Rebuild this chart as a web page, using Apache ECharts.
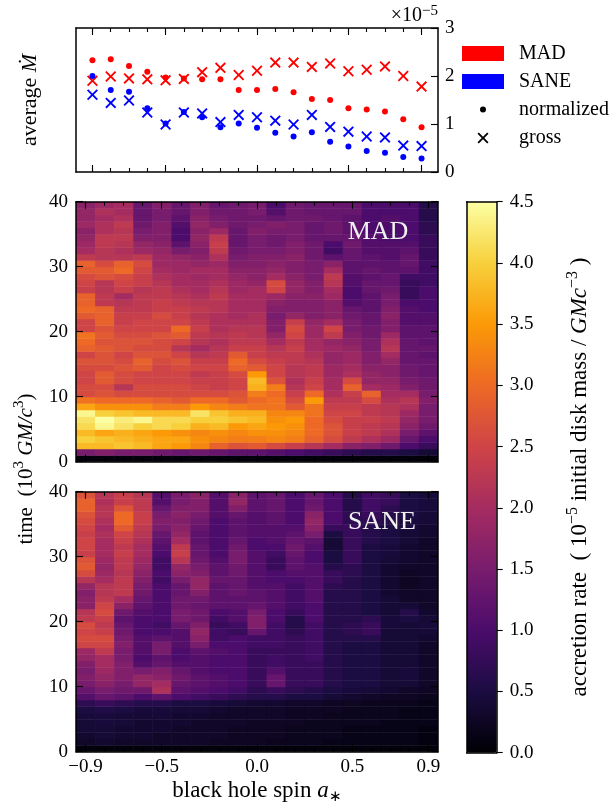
<!DOCTYPE html>
<html><head><meta charset="utf-8">
<script src="https://cdn.jsdelivr.net/npm/echarts@6/dist/echarts.min.js"></script>
<style>html,body{margin:0;padding:0;background:#fff}#c{width:616px;height:804px}</style>
</head><body><div id="c"></div><script>
// ---------------- data ----------------
const spins = [-0.9,-0.8,-0.7,-0.6,-0.5,-0.4,-0.3,-0.2,-0.1,0.0,0.1,0.2,0.3,0.4,0.5,0.6,0.7,0.8,0.9];
const majorSpinTicks = [-0.9,-0.5,0.0,0.5,0.9];
const madNormalized = [2.33,2.35,2.21,2.09,1.97,1.95,1.93,1.93,1.71,1.71,1.73,1.66,1.52,1.50,1.33,1.30,1.26,1.10,0.93];
const madGross      = [1.90,1.99,1.95,1.93,1.91,1.94,2.08,2.17,2.02,2.11,2.28,2.28,2.19,2.26,2.10,2.13,2.20,2.00,1.78];
const saneNormalized= [2.00,1.71,1.67,1.33,1.01,1.25,1.14,0.93,1.01,0.92,0.82,0.74,0.83,0.63,0.53,0.44,0.40,0.31,0.28];
const saneGross     = [1.61,1.44,1.49,1.24,0.99,1.24,1.22,1.04,1.19,1.14,1.07,0.99,1.19,0.94,0.84,0.74,0.72,0.55,0.54];
const timeBinStart = Array.from({length:40},(_,k)=>k);   // bin edges, 10^3 GM/c^3
const TIME_BIN = 1, SPIN_BIN = 0.1;
// accretion rate, one row per spin, 40 time bins (t = 0..40)
const madRate = [
[0.05,1.5,3.8,4.0,3.8,4.1,4.2,4.4,3.6,3.1,2.6,2.6,2.5,2.5,2.6,2.7,2.5,2.9,3.0,3.1,2.5,2.5,2.8,3.0,2.9,2.9,2.4,2.5,2.6,2.8,2.9,2.3,2.0,1.9,1.8,1.7,1.9,1.8,1.8,1.7],
[0.05,1.6,3.8,3.9,3.6,4.4,4.5,4.0,3.4,3.0,2.7,2.6,2.8,2.8,2.6,2.7,2.7,2.8,2.7,2.8,2.7,2.9,2.9,2.9,2.3,2.3,2.2,2.2,2.7,2.8,2.6,2.2,2.2,2.3,2.3,2.1,2.1,2.0,2.1,1.9],
[0.05,1.5,3.9,3.8,3.7,4.2,4.3,3.9,3.4,3.0,2.6,2.2,2.6,2.6,2.7,2.6,2.5,2.7,2.7,2.6,2.5,2.4,2.4,2.3,2.2,2.0,2.4,2.5,2.6,3.0,2.9,2.2,2.1,2.2,2.3,2.2,2.3,2.1,2.0,2.0],
[0.05,1.5,3.8,3.7,3.6,4.0,4.4,3.8,3.4,3.0,2.6,2.6,2.5,2.5,2.8,2.9,2.7,2.6,2.7,2.6,2.5,2.5,2.4,2.3,2.3,2.3,2.2,2.4,2.4,2.5,2.6,2.3,1.9,1.8,1.6,1.5,1.4,1.3,1.3,1.3],
[0.05,1.4,3.6,3.6,3.5,4.1,4.1,3.8,3.2,2.9,2.6,2.6,2.5,2.5,2.5,2.6,2.7,2.6,2.6,2.7,2.5,2.5,2.6,2.4,2.4,2.3,2.3,2.2,2.1,2.0,1.9,1.9,1.8,1.7,1.6,1.6,1.6,1.5,1.5,1.6],
[0.05,1.3,3.5,3.6,3.4,4.0,4.1,3.8,3.2,2.8,2.6,2.6,2.5,2.5,2.6,2.7,2.5,2.2,2.5,2.8,3.0,2.5,2.4,2.4,2.3,2.2,2.1,2.0,2.0,1.9,1.9,1.8,1.5,1.2,1.0,1.0,1.1,1.2,1.3,1.3],
[0.05,1.4,3.3,3.4,3.3,3.7,4.0,4.2,3.5,3.0,2.6,2.5,2.4,2.3,2.5,2.4,2.2,2.0,2.2,2.3,2.4,2.3,2.2,2.3,2.2,2.1,2.0,2.0,1.9,2.0,1.8,1.7,1.6,1.7,1.8,1.7,1.8,1.7,1.6,1.6],
[0.05,1.3,2.9,3.3,3.4,3.8,4.0,3.9,3.3,3.0,2.6,2.4,2.4,2.4,2.5,2.4,2.3,2.2,2.1,2.2,2.1,2.1,2.1,2.2,2.2,2.3,2.2,2.1,2.0,2.0,1.9,2.1,2.3,2.4,2.3,1.9,1.6,1.5,1.4,1.3],
[0.05,1.2,2.7,3.2,3.3,3.5,3.9,3.7,3.2,2.8,2.7,2.5,2.5,2.6,2.9,3.0,2.8,2.4,2.3,2.3,2.2,2.1,2.0,2.0,2.0,2.0,1.9,1.9,1.8,1.7,1.6,1.5,1.4,1.3,1.3,1.3,1.4,1.4,1.4,1.4],
[0.05,1.2,2.8,3.2,3.4,3.6,3.8,3.7,3.1,3.0,3.2,3.7,3.8,3.5,2.8,2.6,2.4,2.4,2.3,2.2,2.2,2.1,2.1,2.0,2.0,2.0,2.0,1.8,1.7,1.7,1.6,1.6,1.5,1.5,1.5,1.6,1.5,1.4,1.5,1.5],
[0.05,1.1,2.6,3.3,3.4,3.5,3.4,3.3,3.1,3.1,3.0,3.2,2.7,2.5,2.5,2.4,2.3,2.2,2.0,1.8,1.6,1.6,1.5,1.6,1.7,1.9,2.5,2.6,2.0,1.8,1.7,1.6,1.5,1.4,1.4,1.5,1.6,1.3,1.1,1.0],
[0.05,1.0,2.4,3.2,3.3,3.4,3.5,3.3,2.8,2.6,2.4,2.2,2.1,2.2,2.2,2.3,2.3,2.4,2.3,2.5,2.6,2.4,1.8,1.6,1.6,1.7,1.8,1.8,1.7,1.6,1.6,1.7,1.6,1.6,1.5,1.5,1.5,1.4,1.4,1.4],
[0.05,0.9,2.2,2.9,3.0,3.0,3.0,3.1,3.1,3.5,3.0,2.5,2.4,2.3,2.3,2.2,2.1,2.0,2.0,1.9,1.9,1.8,1.6,1.6,1.6,1.7,1.6,1.6,1.5,1.5,1.5,1.4,1.4,1.4,1.3,1.3,1.3,1.4,1.3,1.3],
[0.05,0.8,2.0,2.6,2.7,2.7,2.6,2.5,2.4,2.3,2.1,2.0,2.0,1.9,1.9,1.8,1.8,1.9,1.8,2.3,2.5,2.0,1.7,1.7,1.7,1.9,2.0,2.2,2.3,2.0,1.7,1.2,0.9,1.0,1.3,1.4,1.4,1.3,1.3,1.3],
[0.05,0.7,1.7,2.3,2.4,2.4,2.4,2.5,2.4,2.3,2.4,2.9,2.6,2.1,2.0,1.9,1.9,1.8,1.7,1.6,1.5,1.5,1.4,1.3,1.1,1.0,1.0,1.1,1.1,1.2,1.2,1.3,1.3,1.4,1.3,1.2,1.2,1.2,1.3,1.3],
[0.05,0.6,1.6,2.1,2.3,2.3,2.4,2.3,2.3,2.6,2.9,2.0,1.8,1.8,1.7,1.6,1.6,1.5,1.5,1.4,1.4,1.3,1.3,1.2,1.2,1.2,1.3,1.3,1.2,1.3,1.2,1.2,1.1,1.1,1.1,1.0,1.0,1.0,1.0,1.0],
[0.05,0.6,1.4,1.9,2.1,2.2,2.3,2.2,2.2,2.1,2.0,1.9,1.8,1.7,1.7,1.8,2.0,2.2,2.1,1.9,1.6,1.6,1.7,1.6,1.5,1.5,1.4,1.3,1.3,1.2,1.2,1.1,1.1,1.1,1.0,1.0,1.0,1.1,1.0,1.0],
[0.05,0.5,1.0,1.3,1.5,1.7,1.8,1.9,2.1,2.2,2.0,1.6,1.5,1.4,1.4,1.3,1.3,1.3,1.3,1.2,1.2,1.1,1.1,1.1,1.0,0.8,0.8,0.8,0.9,1.2,1.3,1.3,1.2,1.1,1.0,1.0,1.0,1.0,1.0,1.0],
[0.05,0.4,0.8,1.0,1.2,1.4,1.5,1.5,1.5,1.6,1.5,1.4,1.4,1.3,1.3,1.3,1.2,1.3,1.2,1.2,1.2,1.1,1.1,1.0,1.0,1.0,1.0,0.9,0.9,0.9,0.9,0.8,0.8,0.8,0.8,0.7,0.7,0.6,0.6,0.6]
];
const saneRate = [
[0.05,0.3,0.35,0.4,0.4,0.45,0.5,0.7,1.1,1.3,1.5,1.6,1.5,1.6,1.8,1.9,2.5,2.6,2.5,2.6,2.3,2.2,1.7,1.7,1.6,1.8,2.2,2.6,2.8,2.7,2.4,2.5,2.5,2.4,2.5,2.6,2.7,2.9,2.9,2.7],
[0.05,0.35,0.4,0.4,0.45,0.45,0.55,0.8,1.3,1.5,1.7,1.8,1.9,2.0,2.0,2.3,2.5,2.6,2.4,2.3,2.4,2.6,2.5,2.3,2.2,2.2,2.0,1.9,1.8,1.9,2.0,2.0,2.0,2.1,2.0,2.1,2.2,2.2,2.1,2.2],
[0.05,0.3,0.35,0.35,0.4,0.4,0.5,0.7,1.2,1.4,1.5,1.6,1.6,1.6,1.5,1.5,1.6,1.5,1.4,1.3,1.2,1.4,1.7,2.0,2.3,2.3,2.3,2.2,2.3,2.3,2.4,2.3,2.4,2.5,2.8,3.0,3.0,2.7,2.4,2.4],
[0.05,0.3,0.35,0.35,0.35,0.4,0.45,0.6,1.0,1.4,1.8,1.8,1.5,1.1,1.0,1.1,1.1,1.1,1.0,1.0,1.0,1.1,1.2,1.3,1.4,1.5,1.6,1.7,1.8,1.9,2.0,2.0,2.1,2.2,2.3,2.4,2.4,2.3,2.3,2.2],
[0.05,0.3,0.3,0.35,0.35,0.4,0.45,0.6,1.2,2.1,2.0,1.7,1.6,1.3,1.2,1.5,1.5,1.2,1.0,0.9,1.0,1.0,1.0,1.0,1.0,1.0,0.9,1.0,0.9,0.9,1.0,1.1,1.2,1.3,1.5,1.6,1.5,1.3,1.1,1.1],
[0.05,0.3,0.3,0.3,0.35,0.35,0.4,0.5,1.0,1.2,1.3,1.4,1.3,1.1,1.0,1.0,1.1,1.1,1.1,1.3,1.5,1.5,1.4,1.4,1.3,1.3,1.5,1.7,1.8,2.2,2.4,2.3,2.0,1.8,1.7,1.6,1.7,1.6,1.5,1.5],
[0.05,0.3,0.3,0.3,0.3,0.35,0.4,0.5,0.9,1.1,1.2,1.2,1.1,1.1,1.1,1.2,1.5,1.7,1.8,1.6,1.4,1.4,1.3,1.4,1.6,1.8,1.8,1.6,1.5,1.4,1.3,1.3,1.2,1.2,1.3,1.4,1.5,1.6,1.6,1.7],
[0.05,0.25,0.3,0.3,0.3,0.3,0.35,0.45,0.8,1.0,1.1,1.1,1.0,1.0,1.0,1.1,1.0,0.9,0.9,0.8,0.9,1.0,1.2,1.2,1.2,1.2,1.3,1.2,1.2,1.1,1.0,1.0,1.0,1.0,1.0,1.0,1.1,1.1,1.1,1.1],
[0.05,0.25,0.25,0.25,0.3,0.3,0.3,0.4,0.7,0.9,1.0,1.0,1.0,1.0,1.0,1.0,1.0,1.0,0.8,0.9,1.1,1.1,1.2,1.2,1.3,1.3,1.3,1.4,1.4,1.5,1.5,1.4,1.3,1.2,1.2,1.2,1.3,1.6,1.8,1.7],
[0.05,0.25,0.25,0.25,0.25,0.3,0.3,0.35,0.6,0.7,0.8,0.8,0.8,0.8,0.8,0.8,0.9,0.9,1.3,1.6,1.6,1.5,1.3,1.2,1.2,1.1,1.1,1.1,1.1,1.1,1.1,1.0,1.0,1.1,1.1,1.1,1.1,1.2,1.2,1.2],
[0.05,0.2,0.25,0.25,0.25,0.3,0.3,0.35,0.6,0.8,1.3,1.3,1.1,0.9,0.9,0.8,0.9,0.9,0.9,0.9,1.0,1.0,1.1,1.1,1.1,1.1,1.0,1.0,0.8,0.8,0.9,1.0,1.1,1.1,1.1,1.2,1.2,1.3,1.3,1.3],
[0.05,0.2,0.2,0.2,0.25,0.25,0.25,0.3,0.5,0.7,0.8,0.8,0.8,0.8,0.8,0.8,0.8,0.8,0.7,0.6,0.6,0.8,0.9,0.9,0.9,0.9,1.0,1.1,1.2,1.2,1.3,1.4,1.3,1.2,1.1,1.0,1.0,1.0,1.0,1.0],
[0.05,0.2,0.2,0.2,0.2,0.25,0.25,0.3,0.5,0.6,0.8,0.8,0.8,0.8,0.9,0.9,0.9,0.9,0.9,0.9,1.0,1.0,1.0,1.1,1.1,1.1,1.1,1.1,1.1,1.0,1.0,1.1,1.2,1.5,1.7,1.8,1.7,1.4,1.3,1.3],
[0.05,0.15,0.2,0.2,0.2,0.2,0.25,0.25,0.4,0.5,0.6,0.6,0.6,0.6,0.6,0.6,0.6,0.6,0.6,0.6,0.6,0.6,0.6,0.6,0.6,0.7,0.8,0.8,0.6,0.5,0.5,0.4,0.4,0.5,0.8,1.0,1.0,1.0,1.0,1.0],
[0.05,0.15,0.15,0.15,0.2,0.2,0.2,0.25,0.35,0.45,0.5,0.5,0.5,0.5,0.5,0.5,0.5,0.6,0.7,0.7,0.6,0.6,0.6,0.6,0.6,0.6,0.6,0.7,0.7,0.8,0.8,0.8,0.8,0.8,0.8,0.7,0.7,0.6,0.6,0.6],
[0.05,0.15,0.15,0.15,0.2,0.2,0.2,0.2,0.3,0.4,0.5,0.5,0.5,0.5,0.5,0.5,0.5,0.6,0.8,0.8,0.7,0.5,0.5,0.5,0.5,0.5,0.5,0.5,0.5,0.5,0.5,0.5,0.6,0.6,0.6,0.7,0.8,0.9,0.9,0.9],
[0.05,0.15,0.15,0.15,0.15,0.2,0.2,0.2,0.25,0.35,0.4,0.4,0.4,0.4,0.4,0.4,0.4,0.4,0.4,0.45,0.45,0.4,0.4,0.4,0.35,0.35,0.35,0.35,0.35,0.4,0.45,0.45,0.5,0.5,0.5,0.6,0.6,0.7,0.8,0.8],
[0.05,0.15,0.15,0.15,0.15,0.15,0.15,0.2,0.25,0.3,0.4,0.45,0.45,0.4,0.4,0.4,0.4,0.4,0.4,0.4,0.5,0.6,0.4,0.3,0.3,0.25,0.25,0.25,0.3,0.35,0.35,0.35,0.4,0.4,0.45,0.45,0.5,0.5,0.5,0.5],
[0.05,0.1,0.1,0.1,0.15,0.15,0.15,0.15,0.2,0.25,0.3,0.3,0.3,0.3,0.3,0.3,0.3,0.35,0.4,0.45,0.4,0.35,0.3,0.3,0.3,0.3,0.3,0.3,0.3,0.3,0.3,0.3,0.3,0.35,0.35,0.4,0.4,0.45,0.45,0.45]
];
const inferno = ['#000004','#1b0c42','#4b0c6b','#781c6d','#a52c60','#cf4446','#ed6925','#fb9a06','#f7d03c','#fcffa4'];

// ---------------- helpers ----------------
const FONT = 'Liberation Serif';
const X_PATH = 'path://M0,1.2 L1.2,0 L5,3.8 L8.8,0 L10,1.2 L6.2,5 L10,8.8 L8.8,10 L5,6.2 L1.2,10 L0,8.8 L3.8,5 Z';
const fmtSpin = v => { const r = Math.round(v*10)/10; return (r < 0 ? '\u2212' : '') + Math.abs(r).toFixed(1); };
const lineS = {color:'#000', width:1.5};
const tickS = {color:'#000', width:1.1};
const lab = {fontFamily:FONT, fontSize:19, color:'#000'};

function xAx(gridIndex, position, min, max, tickVals, tickLen, showLine, labelVals) {
  return {type:'value', gridIndex, position, min, max, z:10,
    axisLine:{show:showLine, onZero:false, lineStyle:lineS},
    axisTick:{show:true, inside:true, length:tickLen, customValues:tickVals, lineStyle:tickS},
    axisLabel: labelVals ? Object.assign({show:true, customValues:labelVals, formatter:fmtSpin, margin:6}, lab) : {show:false},
    splitLine:{show:false}};
}
function yAx(gridIndex, position, min, max, interval, o) {
  return {type:'value', gridIndex, position, min, max, interval, z:10,
    axisLine:{show:true, onZero:false, lineStyle:lineS},
    axisTick:{show:o.ticks, inside:o.inside !== false, length:o.len || 7, lineStyle:tickS},
    axisLabel: o.labels ? Object.assign({show:true, margin:o.margin || 8, formatter:o.fmt}, lab) : {show:false},
    splitLine:{show:false}};
}
const hiddenY = g => ({type:'value', gridIndex:g, show:false, min:0, max:1});

function cells(rate) {
  const out = [];
  rate.forEach((col, i) => col.forEach((v, k) => out.push([spins[i], timeBinStart[k], v])));
  return out;
}
function renderItem(params, api) {
  const s = api.value(0), t = api.value(1);
  const a = api.coord([s - SPIN_BIN/2, t + TIME_BIN]);
  const b = api.coord([s + SPIN_BIN/2, t]);
  return {type:'rect', shape:{x:a[0], y:a[1], width:b[0]-a[0]+0.6, height:b[1]-a[1]+0.6},
          style:{fill:api.visual('color')}};
}
const zip = arr => spins.map((s, i) => [s, arr[i]]);

const TOP = {left:76, top:28, width:362, height:144};
const MADG = {left:76, top:201.7, width:362, height:260};
const SANEG = {left:76, top:491.7, width:362, height:260};
const CB = {left:466.7, top:201.7, width:30, height:551};
const legText = pad => ({fontFamily:FONT, fontSize:20, color:'#000', lineHeight:20, padding:[0,0,0,pad]});

const option = {
  animation:false,
  backgroundColor:'#fff',
  grid:[TOP, TOP, MADG, MADG, SANEG, SANEG, CB].map(g => Object.assign({containLabel:false}, g)),
  xAxis:[
    xAx(0,'bottom',-0.99,0.99,spins,4,true),
    xAx(0,'top',-0.99,0.99,spins,4,true),
    xAx(1,'bottom',-0.99,0.99,majorSpinTicks,7,false),
    xAx(1,'top',-0.99,0.99,majorSpinTicks,7,false),
    xAx(2,'bottom',-0.95,0.95,spins,4,true),
    xAx(2,'top',-0.95,0.95,spins,4,true),
    xAx(3,'bottom',-0.95,0.95,majorSpinTicks,7,false),
    xAx(3,'top',-0.95,0.95,majorSpinTicks,7,false),
    xAx(4,'bottom',-0.95,0.95,spins,4,true,majorSpinTicks),
    xAx(4,'top',-0.95,0.95,spins,4,true),
    xAx(5,'bottom',-0.95,0.95,majorSpinTicks,7,false),
    xAx(5,'top',-0.95,0.95,majorSpinTicks,7,false),
    {type:'value', gridIndex:6, position:'bottom', min:0, max:1, z:10, axisLine:{show:true,onZero:false,lineStyle:lineS}, axisTick:{show:false}, axisLabel:{show:false}, splitLine:{show:false}},
    {type:'value', gridIndex:6, position:'top', min:0, max:1, z:10, axisLine:{show:true,onZero:false,lineStyle:lineS}, axisTick:{show:false}, axisLabel:{show:false}, splitLine:{show:false}}
  ],
  yAxis:[
    yAx(0,'right',0,3,1,{ticks:true, labels:true, margin:7, fmt:v=>String(v)}),
    yAx(0,'left',0,3,1,{ticks:false}),
    hiddenY(1),
    yAx(2,'left',0,40,10,{ticks:true, labels:true, margin:8, fmt:v=>String(v)}),
    yAx(2,'right',0,40,10,{ticks:true}),
    hiddenY(3),
    yAx(4,'left',0,40,10,{ticks:true, labels:true, margin:8, fmt:v=>String(v)}),
    yAx(4,'right',0,40,10,{ticks:true}),
    hiddenY(5),
    yAx(6,'right',0,4.5,0.5,{ticks:true, inside:false, len:6, labels:true, margin:13, fmt:v=>v.toFixed(1)}),
    yAx(6,'left',0,4.5,0.5,{ticks:false})
  ],
  visualMap:{
    type:'continuous', min:0, max:4.5, dimension:2, seriesIndex:[0,1],
    calculable:false, hoverLink:false, realtime:false, orient:'vertical',
    left:CB.left, top:CB.top, itemWidth:CB.width, itemHeight:CB.height, padding:0,
    showLabel:false, text:null,
    inRange:{color:inferno}
  },
  legend:[
    {data:[{name:'MAD', icon:'rect'},{name:'SANE', icon:'rect'}], orient:'vertical', left:462, top:43.5,
     itemWidth:42, itemHeight:15, itemGap:8, padding:0, selectedMode:false, textStyle:legText(10)},
    {data:[{name:'normalized', icon:'circle'}], orient:'vertical', left:480, top:99.5,
     itemWidth:6, itemHeight:6, padding:0, selectedMode:false, textStyle:legText(28)},
    {data:[{name:'gross', icon:X_PATH}], orient:'vertical', left:477.5, top:128,
     itemWidth:11, itemHeight:11, padding:0, selectedMode:false, textStyle:legText(25.5)}
  ],
  series:[
    {type:'custom', name:'MAD rate', xAxisIndex:4, yAxisIndex:3, renderItem, data:cells(madRate), encode:{x:0,y:1}, clip:true, silent:true},
    {type:'custom', name:'SANE rate', xAxisIndex:8, yAxisIndex:6, renderItem, data:cells(saneRate), encode:{x:0,y:1}, clip:true, silent:true},
    {type:'scatter', name:'MAD normalized', xAxisIndex:0, yAxisIndex:0, data:zip(madNormalized), symbol:'circle', symbolSize:6, itemStyle:{color:'#ff0000', opacity:1}, silent:true, z:3},
    {type:'scatter', name:'MAD gross', xAxisIndex:0, yAxisIndex:0, data:zip(madGross), symbol:X_PATH, symbolSize:11, itemStyle:{color:'#ff0000', opacity:1}, silent:true, z:4},
    {type:'scatter', name:'SANE normalized', xAxisIndex:0, yAxisIndex:0, data:zip(saneNormalized), symbol:'circle', symbolSize:6, itemStyle:{color:'#0000ff', opacity:1}, silent:true, z:5},
    {type:'scatter', name:'SANE gross', xAxisIndex:0, yAxisIndex:0, data:zip(saneGross), symbol:X_PATH, symbolSize:11, itemStyle:{color:'#0000ff', opacity:1}, silent:true, z:6},
    {type:'scatter', name:'MAD', xAxisIndex:0, yAxisIndex:0, data:[], itemStyle:{color:'#ff0000', opacity:1}},
    {type:'scatter', name:'SANE', xAxisIndex:0, yAxisIndex:0, data:[], itemStyle:{color:'#0000ff', opacity:1}},
    {type:'scatter', name:'normalized', xAxisIndex:0, yAxisIndex:0, data:[], itemStyle:{color:'#000', opacity:1}},
    {type:'scatter', name:'gross', xAxisIndex:0, yAxisIndex:0, data:[], itemStyle:{color:'#000', opacity:1}}
  ],
  graphic:[
    {type:'text', x:438, y:15, z:100, style:{text:'{a|\u00d710}{b|\u22125}', align:'right', verticalAlign:'middle',
      rich:{a:{fontFamily:FONT, fontSize:20, lineHeight:22, verticalAlign:'bottom', fill:'#000'},
            b:{fontFamily:FONT, fontSize:15, lineHeight:15, verticalAlign:'top', fill:'#000'}}}},
    {type:'text', x:30, y:100, rotation:Math.PI/2, z:100, style:{text:'{r|average }{i|\u1e40}', align:'center', verticalAlign:'middle',
      rich:{r:{fontFamily:FONT, fontSize:22, fill:'#000'}, i:{fontFamily:FONT, fontSize:22, fontStyle:'italic', fill:'#000'}}}},
    {type:'text', x:24, y:469, rotation:Math.PI/2, z:100, style:{text:'{r|time  (10}{s|3}{r| }{i|GM/c}{s|3}{r|)}', align:'center', verticalAlign:'middle',
      rich:{r:{fontFamily:FONT, fontSize:21, lineHeight:25, verticalAlign:'bottom', fill:'#000'},
            i:{fontFamily:FONT, fontSize:21, lineHeight:25, verticalAlign:'bottom', fontStyle:'italic', fill:'#000'},
            s:{fontFamily:FONT, fontSize:15, lineHeight:15, verticalAlign:'top', fill:'#000'}}}},
    {type:'text', x:578, y:477, rotation:Math.PI/2, z:100, style:{text:'{r|accretion rate  ( 10}{s|\u22125}{r| initial disk mass / }{i|GMc}{s|\u22123}{r| )}', align:'center', verticalAlign:'middle',
      rich:{r:{fontFamily:FONT, fontSize:23, lineHeight:27, verticalAlign:'bottom', fill:'#000'},
            i:{fontFamily:FONT, fontSize:23, lineHeight:27, verticalAlign:'bottom', fontStyle:'italic', fill:'#000'},
            s:{fontFamily:FONT, fontSize:16, lineHeight:16, verticalAlign:'top', fill:'#000'}}}},
    {type:'text', x:257, y:792, z:100, style:{text:'{r|black hole spin }{i|a}{u|\u2217}', align:'center', verticalAlign:'middle',
      rich:{r:{fontFamily:FONT, fontSize:23, lineHeight:26, verticalAlign:'top', fill:'#000'},
            i:{fontFamily:FONT, fontSize:23, lineHeight:26, verticalAlign:'top', fontStyle:'italic', fill:'#000'},
            u:{fontFamily:FONT, fontSize:15, lineHeight:15, verticalAlign:'bottom', fill:'#000'}}}},
    {type:'text', x:378, y:232, z:100, style:{text:'MAD', fontFamily:FONT, fontSize:26, fill:'#f0f0f0', align:'center', verticalAlign:'middle'}},
    {type:'text', x:382, y:522, z:100, style:{text:'SANE', fontFamily:FONT, fontSize:26, fill:'#f0f0f0', align:'center', verticalAlign:'middle'}}
  ]
};
const chart = echarts.init(document.getElementById('c'));
chart.setOption(option);
</script></body></html>
